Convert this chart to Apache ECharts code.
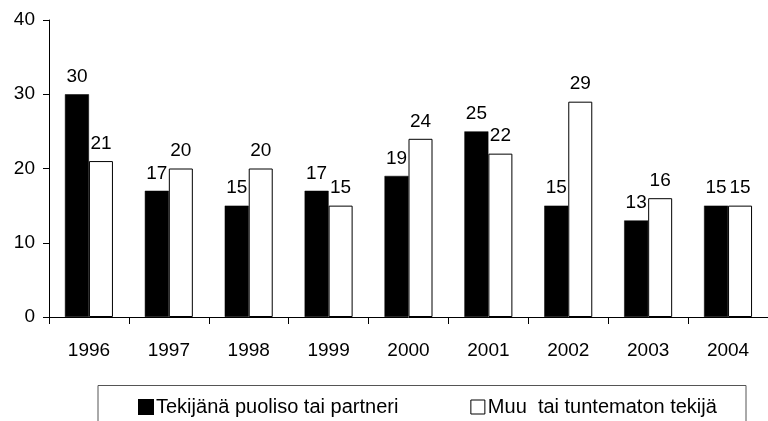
<!DOCTYPE html>
<html>
<head>
<meta charset="utf-8">
<script src="https://cdn.jsdelivr.net/npm/echarts@6/dist/echarts.min.js"></script>
<style>
html,body{margin:0;padding:0;background:#fff;}
#chart{width:768px;height:421px;}
</style>
</head>
<body>
<div id="chart"></div>
<script>
var years = ['1996','1997','1998','1999','2000','2001','2002','2003','2004'];
var partner = [30, 17, 15, 17, 19, 25, 15, 13, 15];
var other = [21, 20, 20, 15, 24, 22, 29, 16, 15];
var seriesNames = ['Tekijänä puoliso tai partneri', 'Muu  tai tuntematon tekijä'];
var yTicks = [0, 10, 20, 30, 40];

var FONT = '"Liberation Sans", Arial, sans-serif';
var chart = echarts.init(document.getElementById('chart'), null, {renderer: 'canvas'});
var labelStyle = {show: true, position: 'top', distance: 8, color: '#000', fontSize: 19, fontFamily: FONT};
chart.setOption({
  animation: false,
  backgroundColor: '#fff',
  grid: {left: 49, right: -9, top: 20, bottom: 104, containLabel: false},
  xAxis: {
    type: 'category',
    data: years,
    axisLine: {lineStyle: {color: '#000', width: 1}},
    axisTick: {show: true, length: 7, lineStyle: {color: '#000'}},
    axisLabel: {color: '#000', fontSize: 19, fontFamily: FONT, margin: 24, interval: 0}
  },
  yAxis: {
    type: 'value',
    min: yTicks[0],
    max: yTicks[yTicks.length - 1],
    interval: 10,
    splitLine: {show: false},
    axisLine: {show: true, lineStyle: {color: '#000', width: 1}},
    axisTick: {show: true, length: 6, lineStyle: {color: '#000'}},
    axisLabel: {color: '#000', fontSize: 19, fontFamily: FONT, margin: 14}
  },
  legend: {
    left: 138,
    top: 397,
    itemWidth: 14,
    itemHeight: 14,
    itemGap: 72,
    padding: 0,
    icon: 'rect',
    textStyle: {color: '#000', fontSize: 20, fontFamily: FONT, padding: [0, 0, 0, -2]},
    data: [
      {name: seriesNames[0], itemStyle: {color: '#000'}},
      {name: seriesNames[1], itemStyle: {color: '#fff', borderColor: '#000', borderWidth: 1}}
    ]
  },
  graphic: [{
    type: 'rect',
    shape: {x: 98, y: 385.5, width: 648, height: 60},
    style: {fill: 'none', stroke: '#555', lineWidth: 1},
    silent: true,
    z: 0
  }],
  series: [
    {
      name: seriesNames[0],
      type: 'bar',
      data: partner,
      barWidth: 24,
      barGap: '0%',
      itemStyle: {color: '#000', borderColor: '#000', borderWidth: 0.5},
      label: labelStyle
    },
    {
      name: seriesNames[1],
      type: 'bar',
      data: other,
      barWidth: 24,
      itemStyle: {color: '#fff', borderColor: '#000', borderWidth: 1},
      label: labelStyle
    }
  ]
});
</script>
</body>
</html>
